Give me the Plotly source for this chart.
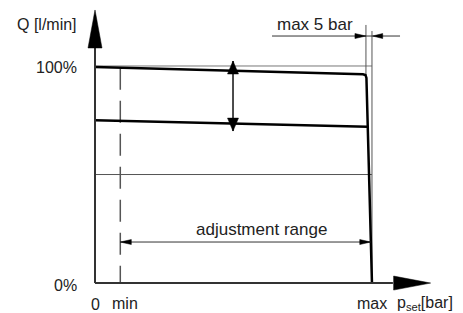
import plotly.graph_objects as go

W, H = 463, 313
FONT = "Liberation Sans, Arial, sans-serif"

# ---- data (pressure in bar, flow in % of Q) ----
p_min = 21.0
p_knee = 225.0
p_max = 230.0
step_label = "max 5 bar"

upper_p = [0, 222.5, 224.6, 225.4, 230.0]
upper_q = [99.5, 96.2, 95.8, 94.5, 0.0]
lower_p = [0, 226.2]
lower_q = [75.0, 72.0]

full_q = 100.0
half_q = 50.0

y_tick_labels = ["100%", "0%"]
x_tick_labels = ["0", "min", "max"]
y_title = "Q [l/min]"
x_title = "p<sub>set</sub>[bar]"
range_label = "adjustment range"

# arrow positions (data units)
dbl_arrow_p = 114.6
dbl_arrow_q = [102.3, 70.0]
range_q = 18.9
range_end_p = 229.0
dim_q = 113.8
dim_p = [147.0, 253.3]

# ---- axis scale (pixel mapping) ----
X_RANGE = (-78.9, 305.6)
Y_RANGE = (-13.8, 130.4)
KX = W / (X_RANGE[1] - X_RANGE[0])
KY = H / (Y_RANGE[1] - Y_RANGE[0])

fig = go.Figure()


def line(xs, ys, color="#000", width=1.0, dash=None):
    fig.add_trace(go.Scatter(x=xs, y=ys, mode="lines",
                             line=dict(color=color, width=width, dash=dash),
                             hoverinfo="skip", showlegend=False))


def head(tp, tq, dx, dy, length, half, color="#000"):
    bx = tp - dx * length / KX
    by = tq - dy * length / KY
    nx, ny = -dy, dx
    xs = [tp, bx + nx * half / KX, bx - nx * half / KX, tp]
    ys = [tq, by + ny * half / KY, by - ny * half / KY, tq]
    fig.add_trace(go.Scatter(x=xs, y=ys, mode="lines", fill="toself",
                             fillcolor=color, line=dict(color=color, width=0.5),
                             hoverinfo="skip", showlegend=False))


# thin reference lines
line([0, p_max], [full_q, full_q], "#777", 1)
line([0, p_max], [half_q, half_q], "#555", 1)
line([p_max, p_max], [0, 116.1], "#555", 1)
line([p_knee, p_knee], [95.8, 118.9], "#555", 1)
line([p_min, p_min], [99.2, 0], "#555", 1.5, "22px,11px")

# characteristic curves
line(upper_p, upper_q, "#000", 2.5)
line(lower_p, lower_q, "#000", 2.5)

# double arrow
line([dbl_arrow_p, dbl_arrow_p], dbl_arrow_q, "#111", 1.5)
head(dbl_arrow_p, dbl_arrow_q[0], 0, 1, 13, 5.5)
head(dbl_arrow_p, dbl_arrow_q[1], 0, -1, 13, 5.5)

# adjustment range dimension
line([p_min, range_end_p], [range_q, range_q], "#333", 1)
head(p_min, range_q, -1, 0, 11, 2.5)
head(range_end_p, range_q, 1, 0, 11, 2.5)

# max 5 bar dimension
line(dim_p, [dim_q, dim_q], "#333", 1)
head(p_knee, dim_q, 1, 0, 11, 2.5)
head(p_max + 0.6, dim_q, -1, 0, 10, 2.5)

# axes
y_base = 108.3
y_tip = 125.8
x_base = 247.4
x_tip = 278.7
line([0, 0], [0, y_base], "#333", 2)
line([0, x_base], [0, 0], "#333", 2)
head(0, y_tip, 0, 1, 38, 7)
head(x_tip, 0, 1, 0, 37, 7)


def text(s, x, y, xanchor="center", size=16):
    fig.add_annotation(x=x, y=y, xref="x", yref="y", text=s, showarrow=False,
                       xanchor=xanchor, yanchor="middle",
                       font=dict(family=FONT, size=size, color="#222"))


text(y_title, -13.3, 118.9, "right")
text(y_tick_labels[0], -13.3, 99.1, "right")
text(y_tick_labels[1], -13.3, -0.9, "right")
text(x_tick_labels[0], 0, -9.7)
text(x_tick_labels[1], 24.5, -9.3)
text(x_tick_labels[2], p_max, -9.3)
text(x_title, 249.0, -9.3, "left")
text(step_label, 182.5, 118.9, size=17)
text(range_label, 137.9, 24.9, size=17)

fig.update_layout(
    width=W, height=H,
    margin=dict(l=0, r=0, t=0, b=0),
    paper_bgcolor="white", plot_bgcolor="white",
    xaxis=dict(range=list(X_RANGE), visible=False, fixedrange=True),
    yaxis=dict(range=list(Y_RANGE), visible=False, fixedrange=True),
    showlegend=False,
)

fig.write_html("out.html",
               config={"displayModeBar": False, "staticPlot": True},
               post_script="document.body.style.margin='0';"
                           "document.body.style.overflow='hidden';")
